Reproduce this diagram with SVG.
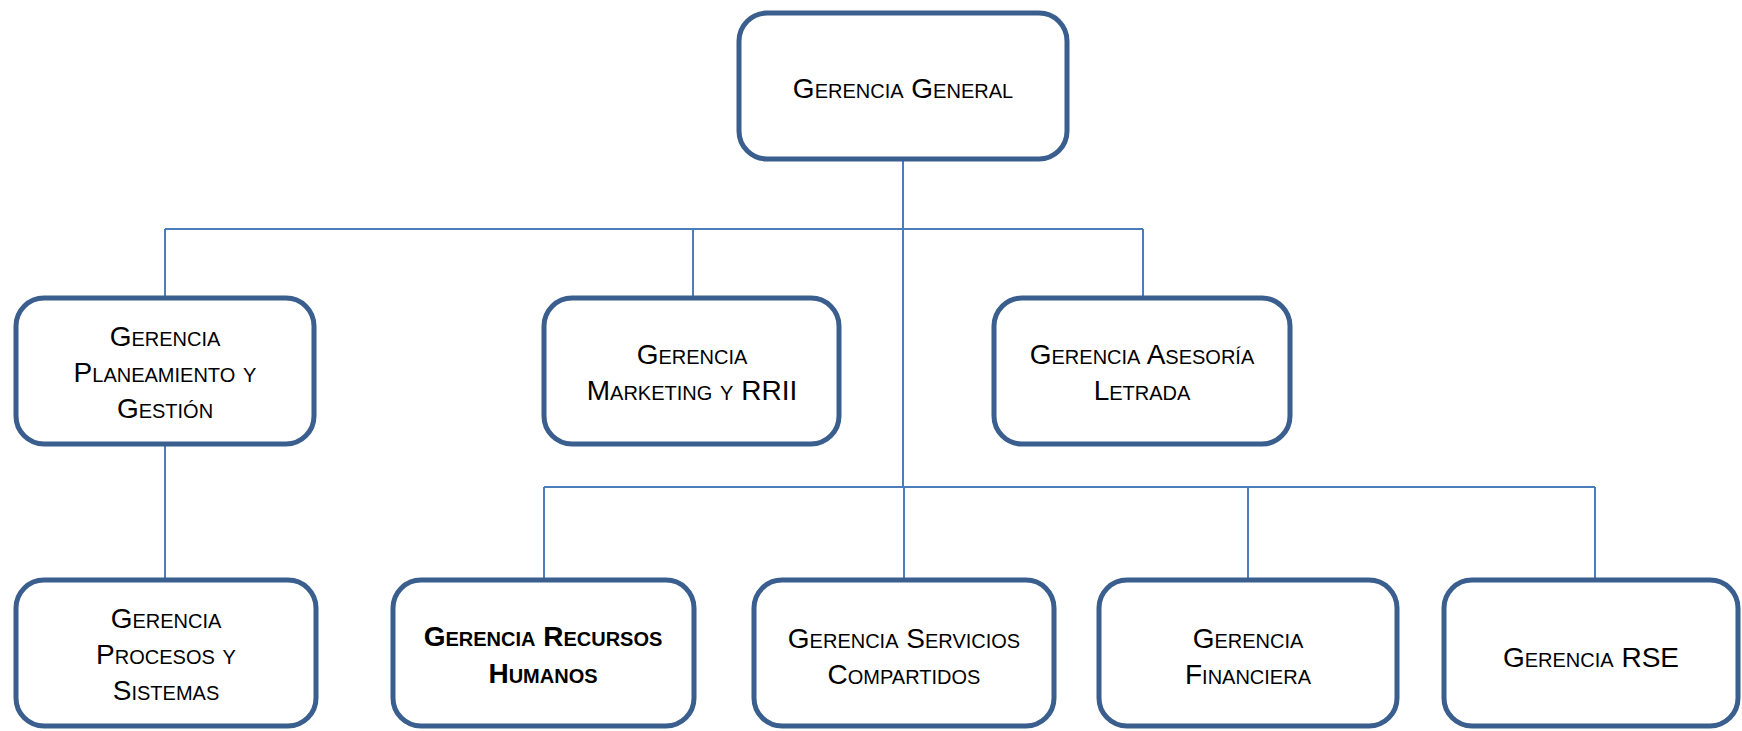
<svg xmlns="http://www.w3.org/2000/svg" width="1742" height="731" viewBox="0 0 1742 731">
<style>
.box{fill:#ffffff;stroke:#3A5F8E;stroke-width:5}
.c{fill:none;stroke:#4A7EBB;stroke-width:2}
text{font-family:"Liberation Sans",Arial,sans-serif;font-size:28px;font-variant:small-caps;fill:#000;text-anchor:middle}
.b{font-weight:bold}
</style>
<rect width="1742" height="731" fill="#ffffff"/>
<g id="connectors">
<line class="c" x1="903" y1="159" x2="903" y2="487"/>
<line class="c" x1="165" y1="229" x2="1143" y2="229"/>
<line class="c" x1="165" y1="229" x2="165" y2="298"/>
<line class="c" x1="693" y1="229" x2="693" y2="298"/>
<line class="c" x1="1143" y1="229" x2="1143" y2="298"/>
<line class="c" x1="544" y1="487" x2="1595" y2="487"/>
<line class="c" x1="544" y1="487" x2="544" y2="580"/>
<line class="c" x1="904" y1="487" x2="904" y2="580"/>
<line class="c" x1="1248" y1="487" x2="1248" y2="580"/>
<line class="c" x1="1595" y1="487" x2="1595" y2="580"/>
<line class="c" x1="165" y1="444" x2="165" y2="580"/>
</g>
<g id="gerencia-general">
<rect class="box" x="739" y="13" width="328" height="146" rx="28"/>
<text x="903" y="98">Gerencia General</text>
</g>
<g id="gerencia-planeamiento">
<rect class="box" x="16" y="298" width="298" height="146" rx="28"/>
<text x="165" y="346">Gerencia</text>
<text x="165" y="382">Planeamiento y</text>
<text x="165" y="418">Gestión</text>
</g>
<g id="gerencia-marketing">
<rect class="box" x="544" y="298" width="295" height="146" rx="28"/>
<text x="692" y="364">Gerencia</text>
<text x="692" y="400">Marketing y RRII</text>
</g>
<g id="gerencia-asesoria">
<rect class="box" x="994" y="298" width="296" height="146" rx="28"/>
<text x="1142" y="364">Gerencia Asesoría</text>
<text x="1142" y="400">Letrada</text>
</g>
<g id="gerencia-procesos">
<rect class="box" x="16" y="580" width="300" height="146" rx="28"/>
<text x="166" y="628">Gerencia</text>
<text x="166" y="664">Procesos y</text>
<text x="166" y="700">Sistemas</text>
</g>
<g id="gerencia-rrhh">
<rect class="box" x="393" y="580" width="301" height="146" rx="28"/>
<text class="b" x="543" y="646">Gerencia Recursos</text>
<text class="b" x="543" y="683">Humanos</text>
</g>
<g id="gerencia-servicios">
<rect class="box" x="754" y="580" width="300" height="146" rx="28"/>
<text x="904" y="648">Gerencia Servicios</text>
<text x="904" y="684">Compartidos</text>
</g>
<g id="gerencia-financiera">
<rect class="box" x="1099" y="580" width="298" height="146" rx="28"/>
<text x="1248" y="648">Gerencia</text>
<text x="1248" y="684">Financiera</text>
</g>
<g id="gerencia-rse">
<rect class="box" x="1444" y="580" width="294" height="146" rx="28"/>
<text x="1591" y="667">Gerencia RSE</text>
</g>
</svg>
